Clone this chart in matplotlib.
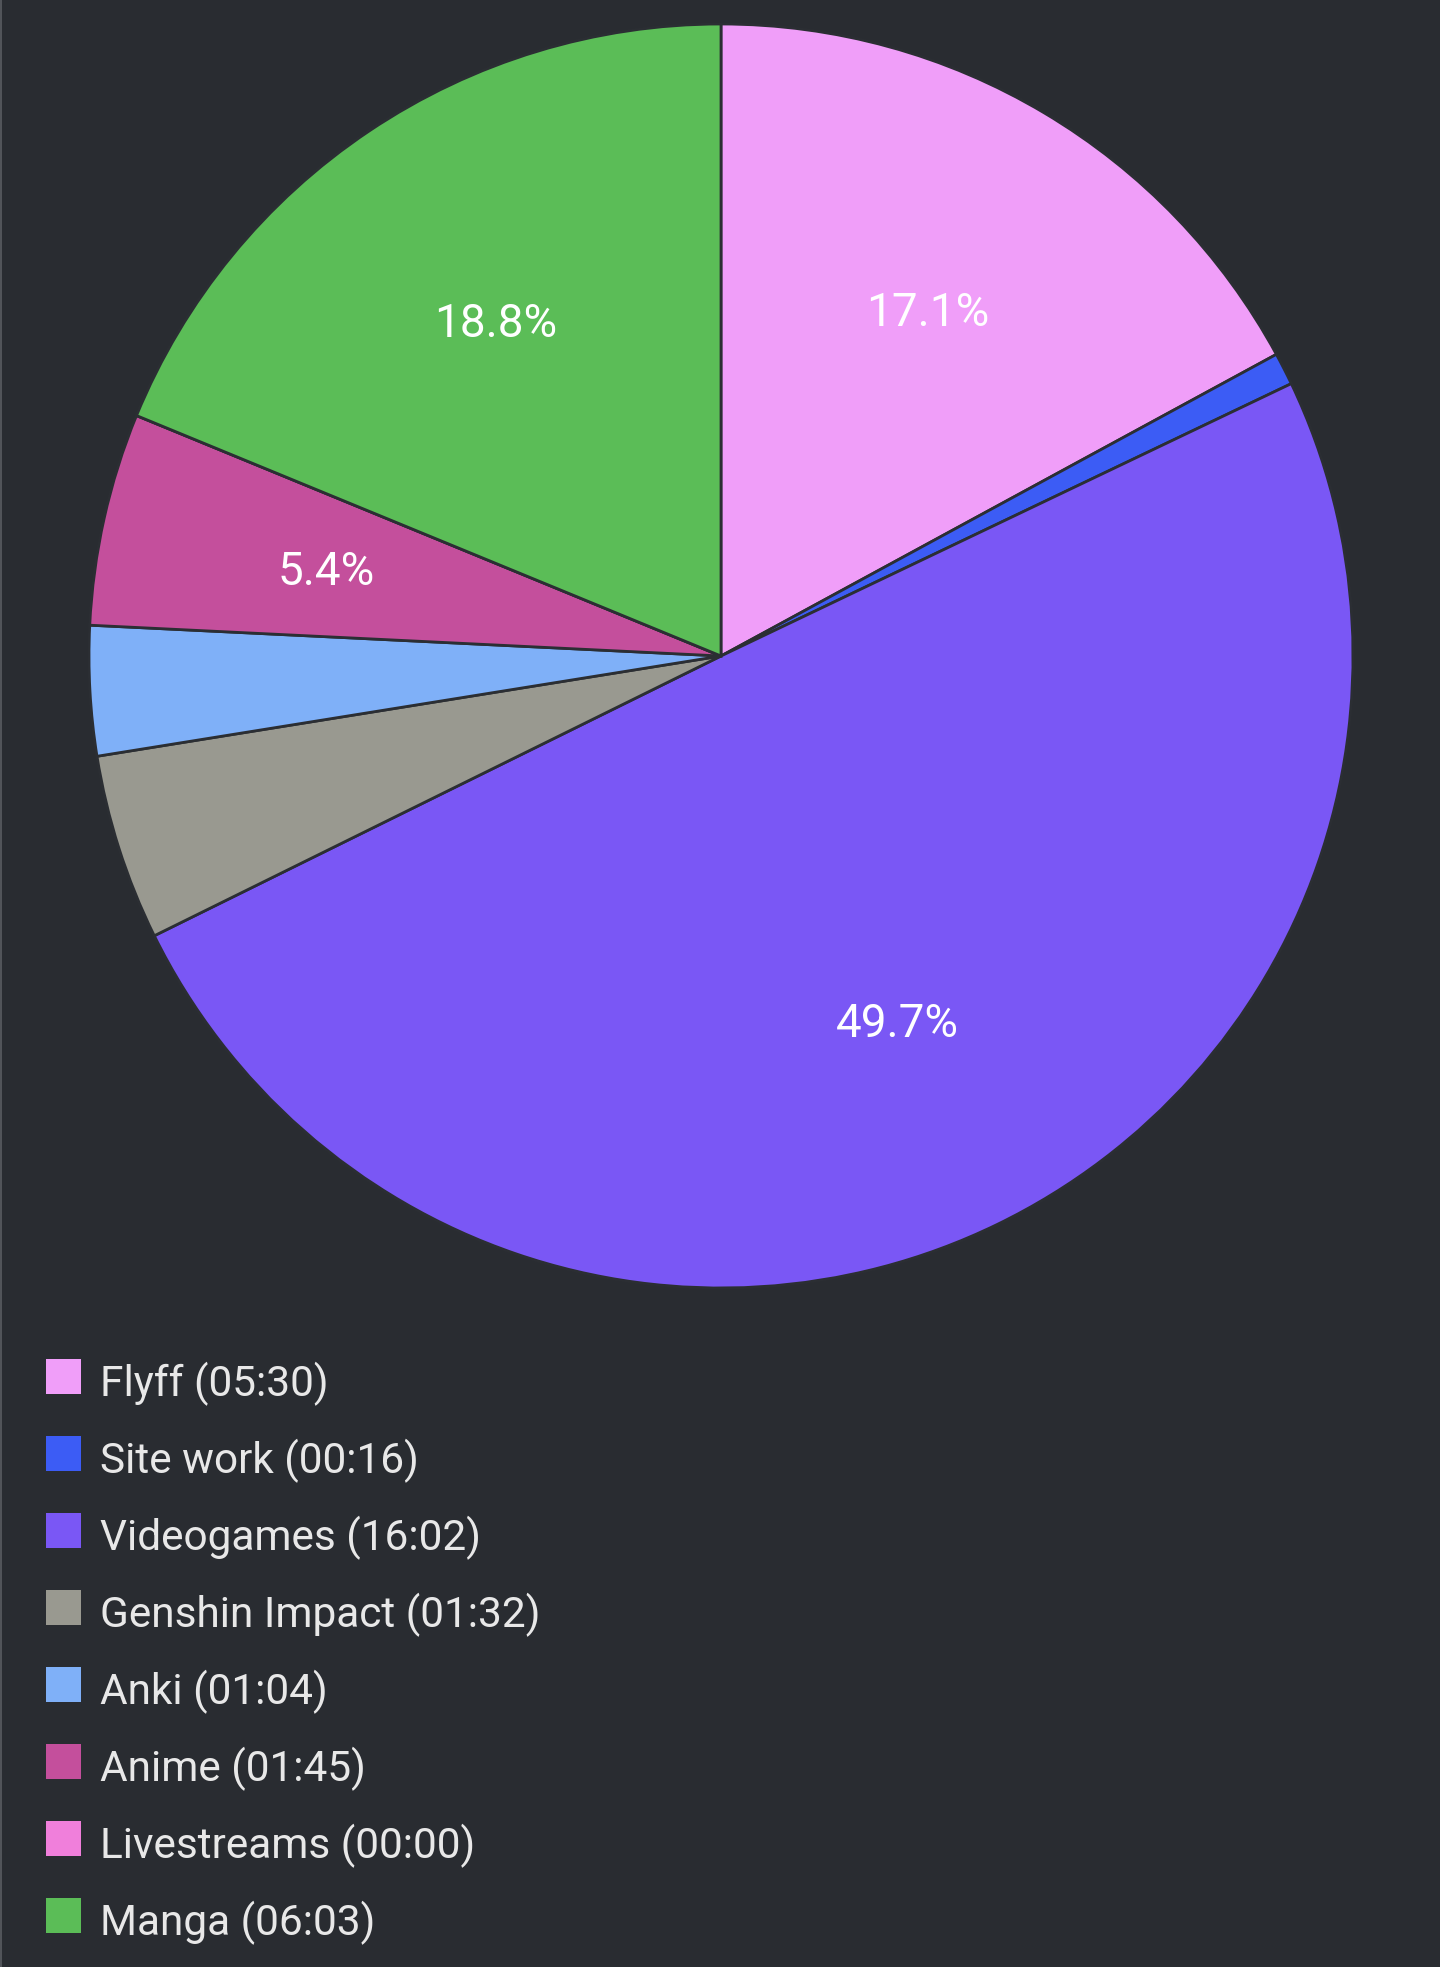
import matplotlib
matplotlib.use("Agg")
import matplotlib.pyplot as plt
from matplotlib.patches import Rectangle
from matplotlib.lines import Line2D

plt.rcParams['font.family'] = ['Roboto', 'DejaVu Sans']

categories = ["Flyff", "Site work", "Videogames", "Genshin Impact", "Anki", "Anime", "Livestreams", "Manga"]
durations = ["05:30", "00:16", "16:02", "01:32", "01:04", "01:45", "00:00", "06:03"]
minutes = [330, 16, 962, 92, 64, 105, 0, 363]
pct_labels = ["17.1%", "", "49.7%", "", "", "5.4%", "", "18.8%"]
colors = ["#f09ef9", "#3c5cf5", "#7a57f5", "#999990", "#7fb0f8", "#c44f9c", "#f07fdb", "#5bbd57"]

BG = "#292c31"
W, H = 1440, 1967
fig = plt.figure(figsize=(W / 100, H / 100), dpi=100, facecolor=BG)

cx, cy, r = 721, 656, 632
ax = fig.add_axes([(cx - r) / W, (H - cy - r) / H, 2 * r / W, 2 * r / H])
ax.set_facecolor(BG)

lab_iter = iter(pct_labels)
wedges, texts, autotexts = ax.pie(
    minutes, colors=colors, startangle=90, counterclock=False, radius=1,
    autopct=lambda p: next(lab_iter), pctdistance=0.64,
    wedgeprops=dict(edgecolor="#2b2e33", linewidth=2.0),
    textprops=dict(color="white", fontsize=33))
for w in wedges:
    w.set_clip_on(False)
for t in autotexts:
    t.set_va('center_baseline')
ax.set_xlim(-1, 1)
ax.set_ylim(-1, 1)
ax.set_aspect('equal')
ax.axis('off')

# legend
for i, (cat, dur, col) in enumerate(zip(categories, durations, colors)):
    top = 1359 + i * 77
    fig.add_artist(Rectangle((46 / W, 1 - (top + 35) / H), 35 / W, 35 / H,
                             transform=fig.transFigure, facecolor=col, edgecolor='none'))
    fig.text(100 / W, 1 - (top + 37) / H, f"{cat} ({dur})", color="#e8e8e8",
             fontsize=30.5, va='baseline', ha='left')

# thin left border
fig.add_artist(Line2D([0.5 / W, 0.5 / W], [0, 1], transform=fig.transFigure,
                      color="#5a5d62", linewidth=1.2))

fig.savefig("out.png", dpi=100, facecolor=BG)
